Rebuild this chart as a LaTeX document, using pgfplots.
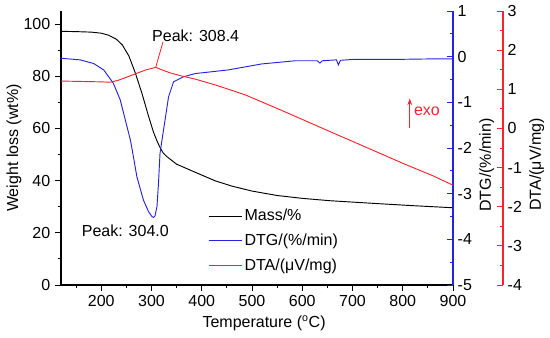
\documentclass[border=0pt]{standalone}
\usepackage{fontspec}
\setmainfont{Liberation Sans}
\usepackage{pgfplots}
\pgfplotsset{compat=1.18}
\usetikzlibrary{arrows.meta}
\definecolor{dtgblue}{RGB}{35,35,225}
\definecolor{dtared}{RGB}{250,35,45}

\pgfplotsset{
  base/.style={
    scale only axis, width=294pt, height=205.5pt,
    at={(0,0)}, anchor=south west,
    xmin=120, xmax=900,
    /pgf/number format/assume math mode=true,
    major tick length=4.5pt, minor tick length=2.5pt,
    every tick/.style={line width=0.7pt},
    tick label style={font=\fontsize{12}{14}\selectfont},
    label style={font=\fontsize{12}{14}\selectfont},
    clip=false,
  }
}

\begin{document}
\begin{tikzpicture}[font=\fontsize{12}{14}\selectfont]
% ---------- Mass axis ----------
\begin{axis}[base,
  axis x line*=bottom, axis y line*=left,
  axis line style={-, line width=1pt},
  ymin=0, ymax=105,
  xtick={200,300,...,900}, minor xtick={150,250,...,850},
  ytick={0,20,...,100}, minor ytick={10,30,...,90},
  tick align=outside,
  xlabel={Temperature (\textsuperscript{o}C)},
  ylabel={Weight loss (wt\%)},
  xlabel style={at={(axis description cs:0.518,0)}, anchor=center, yshift=-28.5pt},
  ylabel style={at={(axis description cs:0,0.5)}, anchor=center, yshift=35.2pt},
  legend style={draw=none, fill=none, at={(axis description cs:0.375,0.285)}, anchor=north west,
    inner sep=0pt, row sep=5.5pt, nodes={inner sep=1.5pt, font=\fontsize{12}{14}\selectfont}},
  legend cell align=left,
  legend image code/.code={\draw[#1] (0pt,0pt) -- (25pt,0pt);},
]
\addplot[black, line width=0.7pt] coordinates {
(120,97.2) (150,97.1) (180,96.9) (200,96.5) (215,95.7) (230,94.2) (242,92.0)
(255,87.8) (268,81.2) (281,73.5) (294,64.8) (304,58.6) (311,55.2) (317,52.7)
(323,50.7) (330,49.3) (350,46.3) (387,43.2) (427,39.9) (460,37.9) (500,36.0)
(550,34.3) (600,33.2) (655,32.3) (740,31.3) (820,30.4) (900,29.6)};
\addlegendentry{Mass/\%}
\addlegendimage{dtgblue, line width=0.7pt}
\addlegendentry{DTG/(\%/min)}
\addlegendimage{dtared, line width=0.7pt}
\addlegendentry{DTA/(μV/mg)}
\node at (axis cs:248,20.9) {Peak: 304.0};
\node at (axis cs:388,95.5) {Peak: 308.4};
\draw[dtared, line width=0.6pt] (axis cs:323,93.2) -- (axis cs:308.4,83.4);
\draw[dtared, line width=0.8pt, -{Stealth[length=5pt,width=3.5pt]}] (axis cs:814,60.0) -- (axis cs:814,71.5);
\node[dtared, anchor=west, inner sep=0pt] at (axis cs:822,66.7) {exo};
\end{axis}
% ---------- DTG axis ----------
\begin{axis}[base,
  axis x line=none, axis y line*=right,
  y axis line style={-, dtgblue, line width=1pt},
  ymin=-5, ymax=1,
  ytick={-5,-4,...,1}, minor ytick={-4.5,-3.5,...,0.5},
  tick align=inside,
  ytick style={dtgblue},
  ylabel={DTG/(\%/min)},
  ylabel style={at={(axis description cs:1,0.438)}, anchor=center, yshift=-25.3pt},
]
\addplot[dtgblue, line width=0.7pt] coordinates {
(120,-0.035) (158,-0.07) (185,-0.15) (205,-0.29) (224,-0.58) (238,-0.95)
(248,-1.39) (258,-1.82) (262,-2.06) (271,-2.63) (284,-3.14) (294,-3.39)
(301,-3.50) (304,-3.52) (307,-3.49) (311,-3.28) (314,-2.77) (317,-2.12)
(322,-1.75) (327,-1.39) (334,-0.88) (344,-0.55) (364,-0.44) (387,-0.37)
(420,-0.33) (453,-0.29) (519,-0.16) (586,-0.09) (630,-0.09) (635,-0.14)
(640,-0.09) (668,-0.07) (672,-0.18) (676,-0.08) (702,-0.06) (788,-0.06)
(850,-0.05) (900,-0.05)};
\end{axis}
% ---------- DTA axis ----------
\begin{axis}[base,
  width=331.5pt, xmax=999.5,
  axis x line=none, axis y line*=right,
  y axis line style={-, dtared, line width=1pt},
  ymin=-4, ymax=3,
  ytick={-4,-3,...,3}, minor ytick={-3.5,-2.5,...,2.5},
  tick align=inside,
  ytick style={dtared},
  ylabel={DTA/(μV/mg)},
  ylabel style={at={(axis description cs:1,0.44)}, anchor=center, yshift=-25.3pt},
]
\addplot[dtared, line width=0.7pt] coordinates {
(120,1.21) (160,1.20) (200,1.19) (218,1.18) (234,1.23) (255,1.33) (271,1.41)
(290,1.50) (308.4,1.56) (320,1.50) (337,1.42) (360,1.34) (387,1.26) (430,1.10)
(486,0.86) (552,0.50) (609,0.18) (655,-0.08) (700,-0.33) (741,-0.56)
(800,-0.89) (860,-1.21) (900,-1.45)};
\end{axis}
\pgfresetboundingbox
\path[use as bounding box] (-45.75pt,-39.75pt) rectangle (366.75pt,213.75pt);
\end{tikzpicture}
\end{document}
